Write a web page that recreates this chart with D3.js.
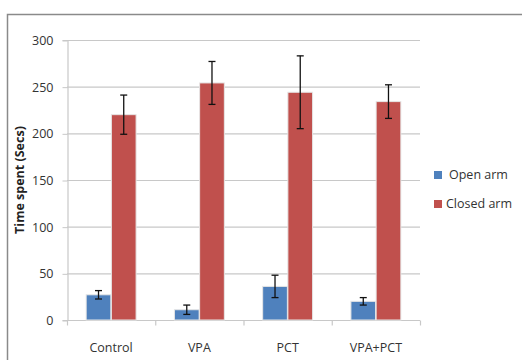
<!DOCTYPE html>
<html><head><meta charset="utf-8">
<script src="https://cdn.jsdelivr.net/npm/d3@7/dist/d3.min.js"></script>
<style>body{margin:0;background:#fff}svg{display:block;font-family:Calibri,"Liberation Sans","Open Sans",sans-serif}</style>
</head><body>
<script>
const categories = ["Control", "VPA", "PCT", "VPA+PCT"];
const seriesNames = ["Open arm", "Closed arm"];
const openArm = [27, 11, 36, 20];
const openErr = [4.5, 5, 12, 4];
const closedArm = [220, 254, 244, 234];
const closedErr = [21, 23, 39, 18];
const yTicks = [0, 50, 100, 150, 200, 250, 300];
const colors = ["#4F81BD", "#C0504D"];

const W = 522, H = 360;
const svg = d3.select("body").append("svg").attr("width", W).attr("height", H);

// outer frame
svg.append("path").attr("d", "M7.5,360 V14.5 H522").attr("fill", "none").attr("stroke", "#8a8a8a").attr("stroke-width", 1.5);

const x0 = 67, x1 = 420, yTop = 40, yBot = 320;
const x = d3.scaleBand().domain(categories).range([x0, x1]).paddingInner(0).paddingOuter(0);
const xs = d3.scaleBand().domain(seriesNames).range([0, x.bandwidth()]).paddingInner(0.02).paddingOuter(0.76);
const y = d3.scaleLinear().domain([0, 300]).range([yBot, yTop]);

// grid
svg.append("g").selectAll("line").data(yTicks).join("line")
  .attr("x1", x0).attr("x2", x1).attr("y1", d => y(d) + 0.5).attr("y2", d => y(d) + 0.5)
  .attr("stroke", "#c8c8c8").attr("stroke-width", 1.2);

// y axis
const yAxis = svg.append("g").attr("transform", `translate(${x0 + 0.5},0)`)
  .call(d3.axisLeft(y).tickValues(yTicks).tickSize(5).tickPadding(9));
yAxis.select(".domain").attr("stroke", "#c8c8c8").attr("stroke-width", 1.2);
yAxis.selectAll(".tick line").attr("stroke", "#c8c8c8").attr("transform", "translate(0,0.5)");
yAxis.selectAll("text").attr("font-size", 12.5).attr("fill", "#333").attr("font-family", "'Open Sans',sans-serif").attr("dy", "0.35em");

// x axis
const xAxis = svg.append("g").attr("transform", `translate(0,${yBot + 0.5})`);
xAxis.append("line").attr("x1", x0).attr("x2", x1).attr("stroke", "#c8c8c8").attr("stroke-width", 1.2);
xAxis.selectAll("line.t").data(categories.concat(["_end"])).join("line").attr("class", "t")
  .attr("x1", (d, i) => x0 + i * x.bandwidth() + 0.5).attr("x2", (d, i) => x0 + i * x.bandwidth() + 0.5)
  .attr("y1", 0).attr("y2", 5).attr("stroke", "#c8c8c8").attr("stroke-width", 1.2);
xAxis.selectAll("text").data(categories).join("text")
  .attr("x", d => x(d) + x.bandwidth() / 2).attr("y", 31)
  .attr("text-anchor", "middle").attr("font-size", 12.5).attr("fill", "#333")
  .attr("font-family", "'Open Sans',sans-serif").text(d => d);

// bars
const series = [openArm, closedArm];
const errs = [openErr, closedErr];
series.forEach((vals, si) => {
  const g = svg.append("g");
  g.selectAll("rect").data(vals).join("rect")
    .attr("x", (d, i) => x(categories[i]) + xs(seriesNames[si]))
    .attr("y", d => y(d))
    .attr("width", xs.bandwidth())
    .attr("height", d => y(0) - y(d))
    .attr("fill", colors[si]).attr("stroke", "#e6e6e6").attr("stroke-width", 1);
});
// error bars
series.forEach((vals, si) => {
  const g = svg.append("g").attr("stroke", "#111").attr("stroke-width", 1.3);
  vals.forEach((v, i) => {
    const cx = x(categories[i]) + xs(seriesNames[si]) + xs.bandwidth() / 2;
    const e = errs[si][i];
    g.append("line").attr("x1", cx).attr("x2", cx).attr("y1", y(v + e)).attr("y2", y(v - e));
    g.append("line").attr("x1", cx - 3.5).attr("x2", cx + 3.5).attr("y1", y(v + e)).attr("y2", y(v + e));
    g.append("line").attr("x1", cx - 3.5).attr("x2", cx + 3.5).attr("y1", y(v - e)).attr("y2", y(v - e));
  });
});

// y title
svg.append("text").attr("transform", "translate(24,180) rotate(-90)")
  .attr("text-anchor", "middle").attr("font-size", 12.5).attr("font-weight", "bold").attr("fill", "#222")
  .attr("font-family", "'Open Sans',sans-serif").text("Time spent (Secs)");

// legend
const leg = svg.append("g");
seriesNames.forEach((n, i) => {
  const ly = 175 + i * 29;
  leg.append("rect").attr("x", 434).attr("y", ly - 4).attr("width", 8).attr("height", 8).attr("fill", colors[i]);
  leg.append("text").attr("x", i === 0 ? 449 : 446).attr("y", ly).attr("dy", "0.35em")
    .attr("font-size", 12.5).attr("fill", "#333").attr("font-family", "'Open Sans',sans-serif").text(n);
});
</script>
</body></html>
